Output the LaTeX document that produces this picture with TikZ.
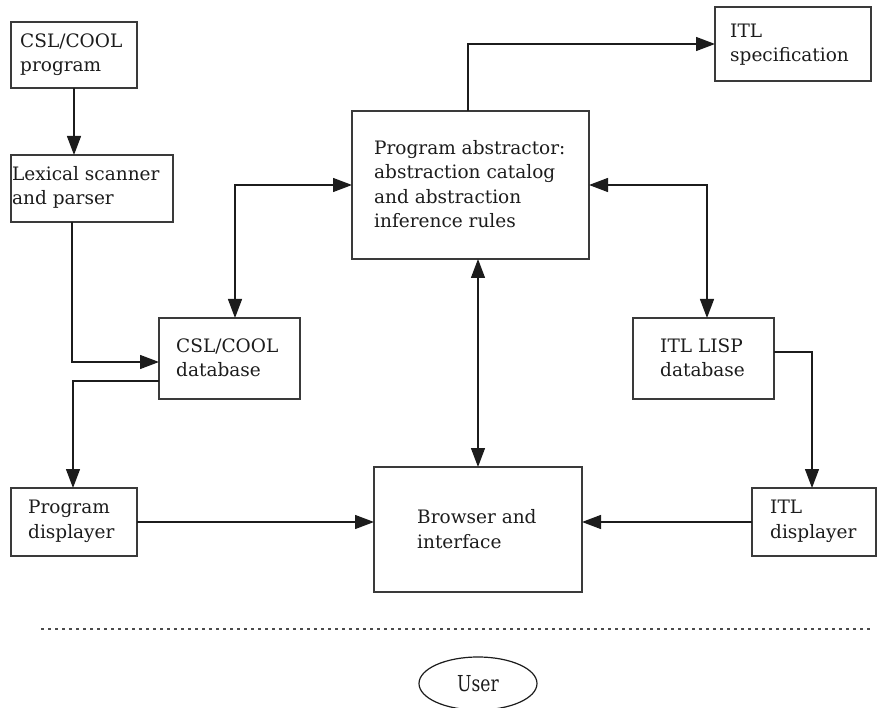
\documentclass[tikz,border=0pt]{standalone}
\usepackage{fontspec}
\setmainfont{DejaVu Serif}
\newfontfamily\userfont[FakeStretch=0.78]{DejaVu Serif}
\usetikzlibrary{arrows.meta,shapes.geometric}

\definecolor{ink}{HTML}{1C1C1C}
\definecolor{frame}{HTML}{3A3A3A}

\begin{document}
\begin{tikzpicture}[x=1pt,y=-1pt,
  box/.style={draw=frame, line width=1.4pt, rectangle, inner sep=0pt, outer sep=0pt, anchor=north west},
  % the base anchor of a multi-line label sits on its last line
  lbl/.style={anchor=base west, align=left, inner sep=0pt, text=ink,
              font=\fontsize{18.5}{24.5}\selectfont},
  tip/.tip={Triangle[length=19pt,width=14pt]},
  link/.style={draw=ink, line width=1.3pt, -tip},
  both/.style={draw=ink, line width=1.3pt, tip-tip},
  dotline/.style={draw=black!70, line width=1.2pt, dash pattern=on 3pt off 4pt}]

\useasboundingbox (0,0) rectangle (878,708);

% boxes
\node[box, minimum width=126pt, minimum height=66pt]  (prog)  at (11,22)   {};
\node[box, minimum width=162pt, minimum height=67pt]  (lex)   at (11,155)  {};
\node[box, minimum width=141pt, minimum height=81pt]  (cdb)   at (159,318) {};
\node[box, minimum width=126pt, minimum height=68pt]  (pdisp) at (11,488)  {};
\node[box, minimum width=237pt, minimum height=148pt] (abs)   at (352,111) {};
\node[box, minimum width=156pt, minimum height=74pt]  (spec)  at (715,7)   {};
\node[box, minimum width=141pt, minimum height=81pt]  (ldb)   at (633,318) {};
\node[box, minimum width=124pt, minimum height=68pt]  (idisp) at (752,488) {};
\node[box, minimum width=208pt, minimum height=125pt] (brow)  at (374,467) {};

% labels
\node[lbl] (progT)  at (20,72)   {CSL/COOL\\program};
\node[lbl] (lexT)   at (12,205)  {Lexical scanner\\and parser};
\node[lbl] (cdbT)   at (176,377) {CSL/COOL\\database};
\node[lbl] (pdispT) at (28,538)  {Program\\displayer};
\node[lbl] (absT)   at (374,228) {Program abstractor:\\abstraction catalog\\and abstraction\\inference rules};
\node[lbl] (specT)  at (730,62)  {ITL\\specification};
\node[lbl] (ldbT)   at (660,377) {ITL LISP\\database};
\node[lbl] (idispT) at (770,538) {ITL\\displayer};
\node[lbl] (browT)  at (417,548) {Browser and\\interface};

% connectors
\draw[link] (prog.south) -- (prog.south |- lex.north);
\draw[link] ([xshift=61pt]lex.south west) |- ([yshift=-3.5pt]cdb.west);
\draw[both] (abs.west) -| ([xshift=76pt]cdb.north west);
\draw[link] ([yshift=-63pt]cdb.north west) -| ([xshift=62pt]pdisp.north west);
\draw[link] (pdisp.east) -- (brow.west |- pdisp.east);
\draw[link] ([xshift=116pt]abs.north west) |- (spec.west);
\draw[both] (abs.east) -| ([xshift=74pt]ldb.north west);
\draw[both] (brow.north |- abs.south) -- (brow.north);
\draw[link] ([yshift=-34pt]ldb.north east) -| ([xshift=60pt]idisp.north west);
\draw[link] (idisp.west) -- (brow.east |- idisp.west);

% separator and user
\draw[dotline] (41,629) -- (872,629);
\node[draw=ink, line width=1.2pt, ellipse, minimum width=118pt, minimum height=53pt, inner sep=0pt,
      text=ink, font=\userfont\fontsize{22}{24}\selectfont] (user) at (478,683.5) {User};
\end{tikzpicture}
\end{document}
